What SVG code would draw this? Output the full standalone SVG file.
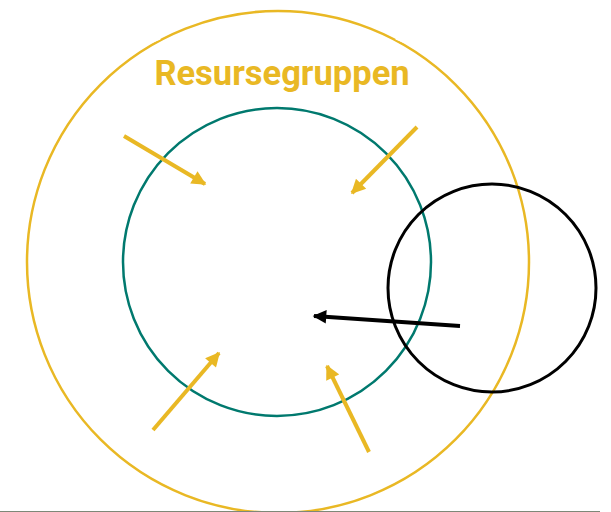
<svg xmlns="http://www.w3.org/2000/svg" width="611" height="512" viewBox="0 0 611 512">
<style>
.ring{fill:none}
.y{stroke:#E9B824}
.arw{stroke-width:4;fill:none}
.title{font-family:Roboto,"Liberation Sans",sans-serif;font-weight:bold;font-size:34.5px;fill:#E9B824}
</style>
<defs>
<marker id="ay" viewBox="0 0 10 10" refX="9" refY="5" markerWidth="4" markerHeight="3.6" orient="auto" markerUnits="strokeWidth">
<path d="M0,0 L10,5 L0,10 z" fill="#E9B824"/>
</marker>
<marker id="ak" viewBox="0 0 10 10" refX="9" refY="5" markerWidth="4" markerHeight="3.4" orient="auto" markerUnits="strokeWidth">
<path d="M0,0 L10,5 L0,10 z" fill="#000"/>
</marker>
</defs>
<rect width="611" height="512" fill="#fff"/>
<g id="resource-group">
<circle class="ring" cx="278" cy="262" r="251" stroke="#E9B824" stroke-width="2.5"/>
<line x1="150" y1="42" x2="160" y2="38" stroke="#fff" stroke-width="3"/>
<line x1="396" y1="38" x2="406" y2="42" stroke="#fff" stroke-width="3"/>
<text class="title" x="282" y="85" text-anchor="middle">Resursegruppen</text>
</g>
<g id="inner">
<circle class="ring" cx="277" cy="262" r="154" stroke="#00796E" stroke-width="2.5"/>
</g>
<g id="outside">
<circle class="ring" cx="492" cy="288" r="104" stroke="#000" stroke-width="3"/>
</g>
<g id="connectors">
<line class="arw y" x1="124" y1="136" x2="205" y2="184" marker-end="url(#ay)"/>
<line class="arw y" x1="417" y1="127" x2="352" y2="193" marker-end="url(#ay)"/>
<line class="arw y" x1="153" y1="430" x2="219" y2="353" marker-end="url(#ay)"/>
<line class="arw y" x1="369" y1="452" x2="327" y2="366" marker-end="url(#ay)"/>
<line class="arw" stroke="#000" x1="460" y1="326" x2="314" y2="316" marker-end="url(#ak)"/>
</g>
<line x1="0" y1="511.5" x2="600" y2="511.5" stroke="#7E8878" stroke-width="1"/>
</svg>
